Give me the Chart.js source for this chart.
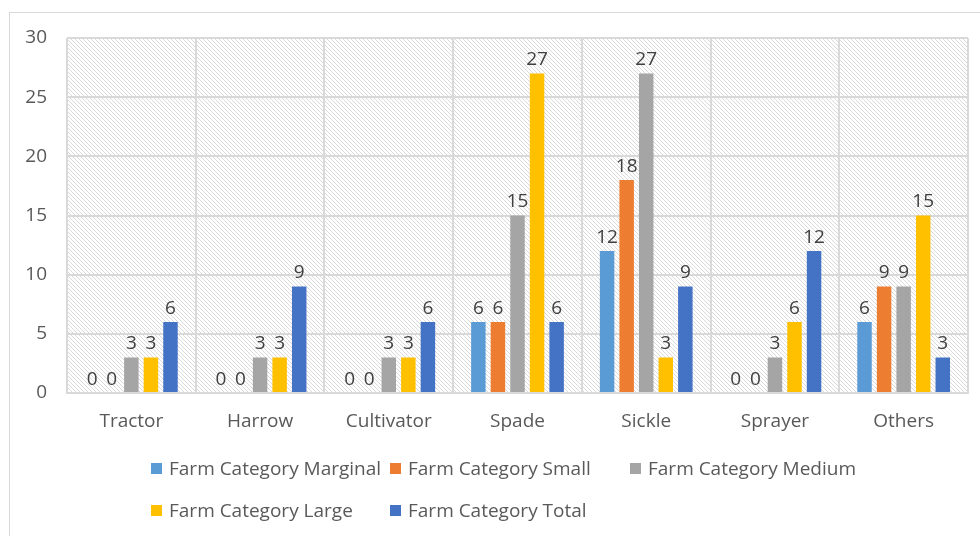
<!DOCTYPE html>
<html>
<head>
<meta charset="utf-8">
<script src="https://cdn.jsdelivr.net/npm/chart.js@4"></script>
<style>
  body { margin: 0; background: #fff; }
  #wrap { position: relative; width: 980px; height: 536px; }
  #frame { position: absolute; left: 9px; top: 12px; width: 980px; height: 540px; border: 1px solid #d9d9d9; box-sizing: border-box; }
  #legend { position: absolute; left: 0; top: 0; font-family: "Open Sans", sans-serif; font-size: 19px; color: #595959; }
  .item { position: absolute; white-space: nowrap; line-height: 20px; }
  .box { display: inline-block; width: 11px; height: 11px; margin-right: 7px; vertical-align: 1px; }
</style>
</head>
<body>
<div id="wrap">
  <div id="frame"></div>
  <canvas id="bar-chart" width="980" height="536"></canvas>
  <div id="legend"></div>
</div>
<script>
var categories = ["Tractor", "Harrow", "Cultivator", "Spade", "Sickle", "Sprayer", "Others"];
var marginal = [0, 0, 0, 6, 12, 0, 6];
var small    = [0, 0, 0, 6, 18, 0, 9];
var medium   = [3, 3, 3, 15, 27, 3, 9];
var large    = [3, 3, 3, 27, 3, 6, 15];
var total    = [6, 9, 6, 6, 9, 12, 3];
var yTicks   = [0, 5, 10, 15, 20, 25, 30];

// diagonal hatch for the plot area
var pat = document.createElement("canvas");
pat.width = 4; pat.height = 4;
var pctx = pat.getContext("2d");
pctx.fillStyle = "#fff";
pctx.fillRect(0, 0, 4, 4);
pctx.fillStyle = "#dadada";
for (var i = 0; i < 4; i++) pctx.fillRect(i, i, 1, 1);

var hatch = {
  id: "hatch",
  beforeDraw: function(chart) {
    var a = chart.chartArea, ctx = chart.ctx;
    ctx.save();
    ctx.fillStyle = ctx.createPattern(pat, "repeat");
    ctx.fillRect(a.left, a.top, a.right - a.left, a.bottom - a.top);
    ctx.restore();
  }
};

var valueLabels = {
  id: "valueLabels",
  afterDatasetsDraw: function(chart) {
    var ctx = chart.ctx;
    ctx.save();
    ctx.font = "19px 'Open Sans'";
    ctx.fillStyle = "#404040";
    ctx.textAlign = "center";
    ctx.textBaseline = "bottom";
    chart.data.datasets.forEach(function(ds, i) {
      chart.getDatasetMeta(i).data.forEach(function(bar, j) {
        ctx.fillText(ds.data[j], bar.x, bar.y - 4);
      });
    });
    ctx.restore();
  }
};

var chart = new Chart(document.getElementById("bar-chart"), {
  type: 'bar',
  data: {
    labels: categories,
    datasets: [
      { label: "Farm Category Marginal", backgroundColor: "#5b9bd5", data: marginal },
      { label: "Farm Category Small", backgroundColor: "#ed7d31", data: small },
      { label: "Farm Category Medium", backgroundColor: "#a5a5a5", data: medium },
      { label: "Farm Category Large", backgroundColor: "#ffc000", data: large },
      { label: "Farm Category Total", backgroundColor: "#4472c4", data: total }
    ]
  },
  options: {
    responsive: false,
    animation: false,
    categoryPercentage: 0.76,
    barPercentage: 0.74,
    layout: { padding: { left: 0, top: 38, right: 12, bottom: 0 } },
    plugins: { legend: { display: false }, tooltip: { enabled: false } },
    scales: {
      x: {
        grid: { color: "#d9d9d9", lineWidth: 2, offset: true, drawTicks: false },
        border: { color: "#d9d9d9", width: 2 },
        ticks: { color: "#595959", font: { family: "Open Sans", size: 19 }, padding: 17 },
        afterFit: function(s) { s.height = 536 - 393; }
      },
      y: {
        min: 0, max: 30,
        afterBuildTicks: function(s) { s.ticks = yTicks.map(function(v) { return { value: v }; }); },
        grid: { color: "#d9d9d9", lineWidth: 2, drawTicks: false },
        border: { display: false },
        ticks: { color: "#595959", font: { family: "Open Sans", size: 19 }, padding: 20 },
        afterFit: function(s) { s.width = 67; }
      }
    }
  },
  plugins: [hatch, valueLabels]
});

// legend laid out in two aligned rows like the original
var legendPos = [[151, 458], [390, 458], [630, 458], [151, 500], [390, 500]];
var leg = document.getElementById("legend");
chart.data.datasets.forEach(function(ds, i) {
  var el = document.createElement("div");
  el.className = "item";
  el.style.left = legendPos[i][0] + "px";
  el.style.top = legendPos[i][1] + "px";
  el.innerHTML = '<span class="box" style="background:' + ds.backgroundColor + '"></span>' + ds.label;
  leg.appendChild(el);
});
</script>
</body>
</html>
